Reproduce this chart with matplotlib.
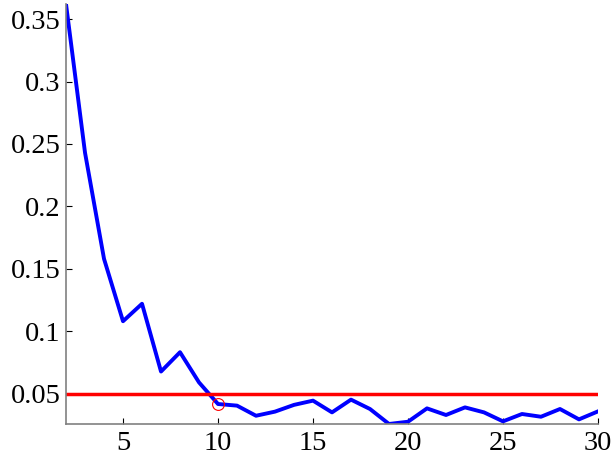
import matplotlib
matplotlib.use("Agg")
import matplotlib.pyplot as plt

# curve values
x = list(range(2, 31))
err = [0.362, 0.243, 0.158, 0.108, 0.122, 0.0677, 0.0832, 0.059, 0.0417,
       0.0404, 0.0323, 0.0356, 0.041, 0.0444, 0.035, 0.0452, 0.0377, 0.0257,
       0.0275, 0.0382, 0.0329, 0.039, 0.035, 0.0278, 0.0337, 0.0315, 0.0377,
       0.0294, 0.0358]
threshold = 0.05
pick_x, pick_y = 10, 0.0417

plt.rcParams['font.family'] = ['Liberation Serif', 'DejaVu Serif']

fig = plt.figure(figsize=(6.13, 4.61), dpi=100)
ax = fig.add_axes([0.1077, 0.0803, 0.8678, 0.9107])

ax.plot(x, err, color='#0000ff', lw=2.8)
ax.plot([x[0], x[-1]], [threshold, threshold], color='#ff0000', lw=2.5)
ax.plot(pick_x, pick_y, 'o', mfc='none', mec='#ff0000', ms=8.5, mew=0.8)

ax.set_xlim(x[0], x[-1])
ax.set_ylim(min(err), max(err))
ax.set_xticks([5, 10, 15, 20, 25, 30])
ax.set_yticks([0.05, 0.1, 0.15, 0.2, 0.25, 0.3, 0.35])
ax.set_yticklabels(['0.05', '0.1', '0.15', '0.2', '0.25', '0.3', '0.35'])

for s in ['top', 'right']:
    ax.spines[s].set_visible(False)
for s in ['left', 'bottom']:
    ax.spines[s].set_color('#808080')
    ax.spines[s].set_linewidth(1.2)
ax.tick_params(direction='in', length=4, width=0.8, color='black',
               labelsize=20.5)
ax.tick_params(axis='y', pad=4)
ax.tick_params(axis='x', pad=5)

fig.savefig("out.png", dpi=100)
